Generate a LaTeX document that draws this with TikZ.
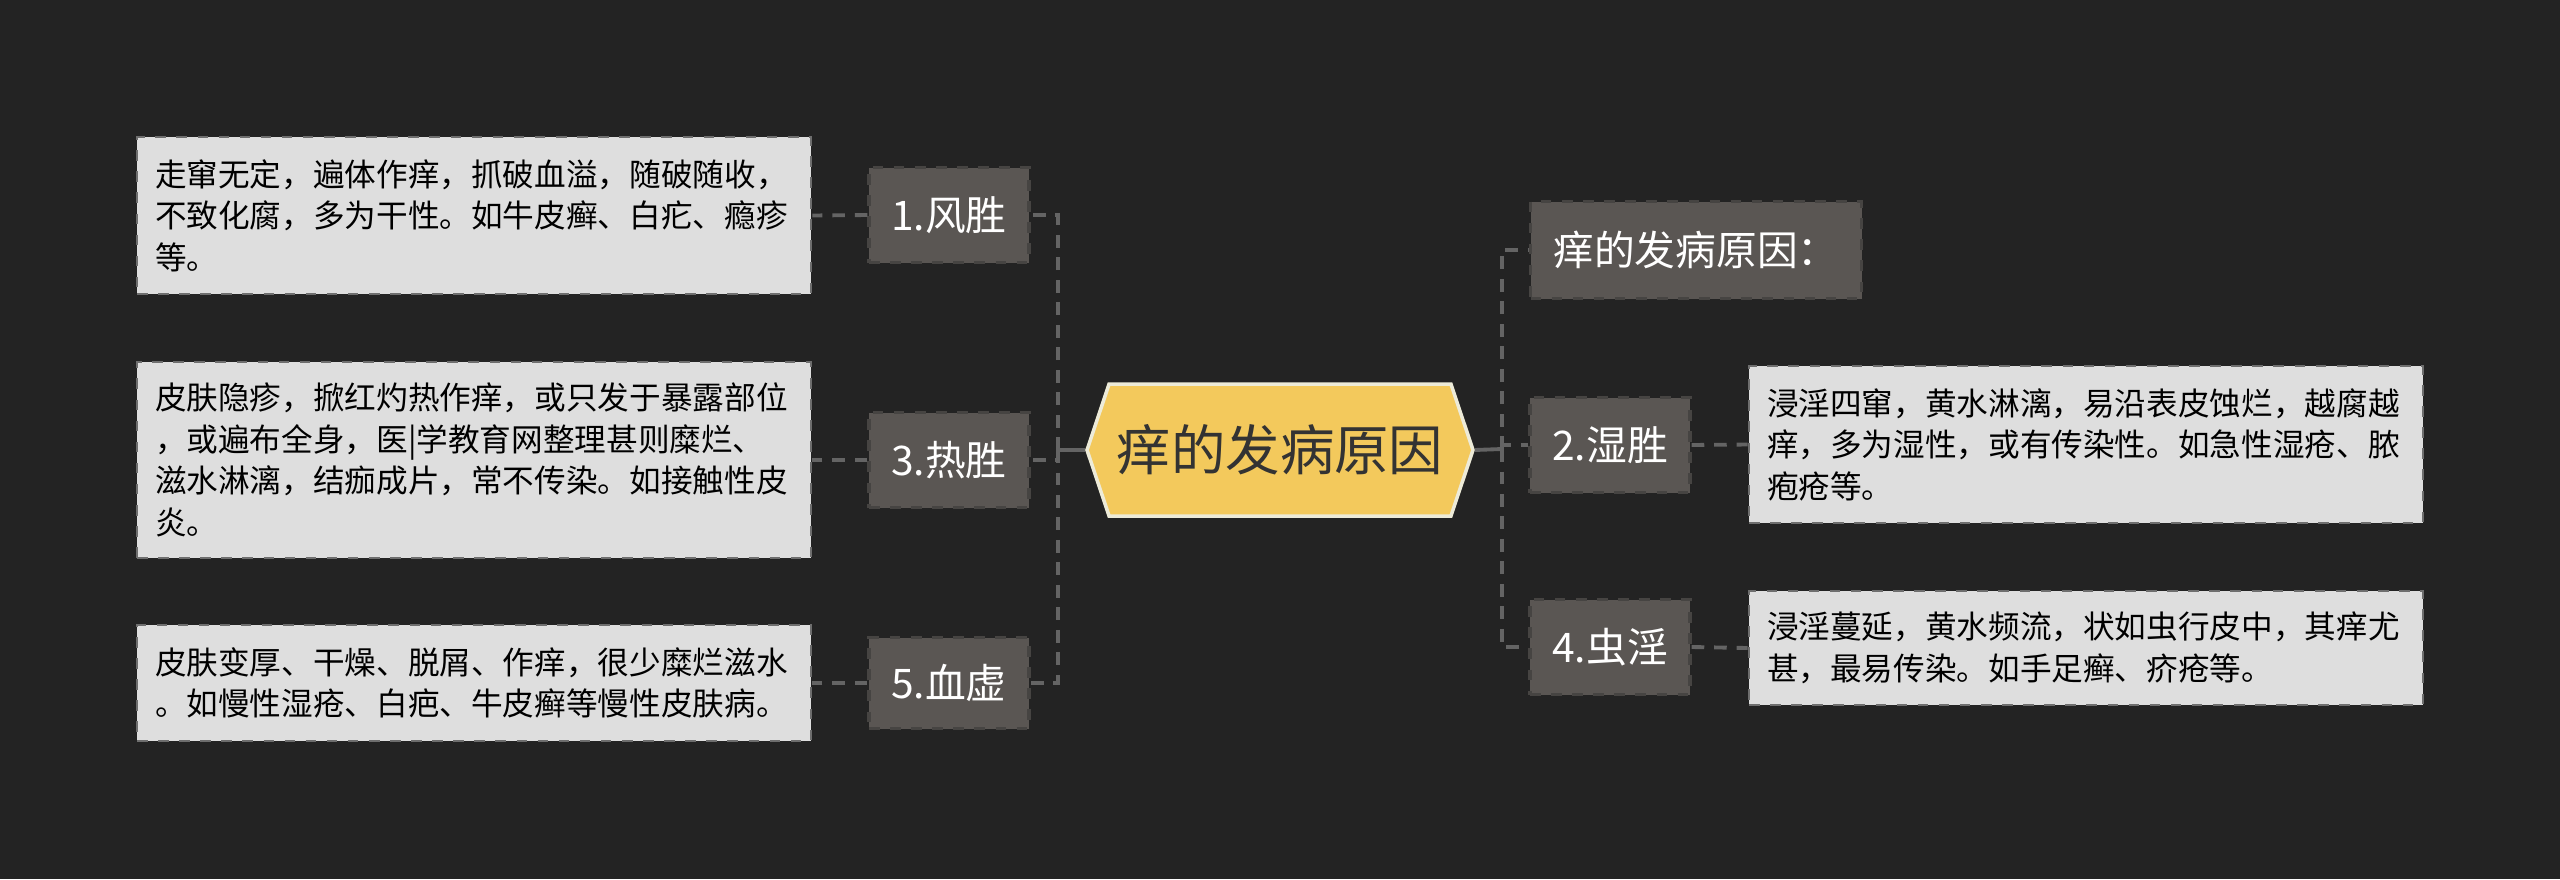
\documentclass[tikz,border=0pt]{standalone}
\usepackage{fontspec}
\setmainfont{Noto Sans CJK SC}
\usepackage{tikz}
\usetikzlibrary{shapes.symbols}
\definecolor{mmbg}{RGB}{35,35,35}
\definecolor{mmgold}{RGB}{243,201,92}
\definecolor{mmcream}{RGB}{237,235,216}
\definecolor{mmtopic}{RGB}{90,86,83}
\definecolor{mmedge}{RGB}{70,68,66}
\definecolor{mmnote}{RGB}{222,222,222}
\definecolor{mmnoteedge}{RGB}{110,110,110}
\definecolor{mmline}{RGB}{100,100,100}
\definecolor{mmink}{RGB}{51,51,51}

\tikzset{
  topic/.style={rectangle, fill=mmtopic, draw=mmedge, dashed, line width=0.9pt, text=white,
    font=\fontsize{11.6}{13}\selectfont, minimum width=1.6cm, minimum height=0.95cm, inner sep=0pt},
  note/.style={rectangle, fill=mmnote, draw=mmnoteedge, dashed, line width=0.8pt, text=black,
    font=\fontsize{9}{11.8}\selectfont, text width=6.38cm, align=left, inner xsep=0.18cm, inner ysep=0pt},
  link/.style={draw=mmline, line width=1.1pt, dash pattern=on 3.6pt off 2.8pt},
  trunk/.style={draw=mmline, line width=1.1pt}
}

\begin{document}
\begin{tikzpicture}
  %% Background
  \fill[mmbg] (0,0) rectangle (25.60,8.79);

  %% Central topic
  \node[signal, signal to=west and east, signal pointer angle=143, fill=mmgold, draw=mmcream,
    line width=1pt, minimum width=3.86cm, minimum height=1.32cm, inner sep=0pt,
    font=\fontsize{15.5}{18}\selectfont, text=mmink] (root) at (12.80,4.29) {痒的发病原因};

  %% Left branches
  \node[topic] (wind)  at (9.49,6.64) {1.风胜};
  \node[topic] (heat)  at (9.49,4.19) {3.热胜};
  \node[topic, minimum height=0.91cm] (blood) at (9.49,1.96) {5.血虚};

  \node[note, minimum height=1.57cm] (winddesc) at (4.74,6.635)
    {走窜无定，遍体作痒，抓破血溢，随破随收，\\不致化腐，多为干性。如牛皮癣、白疕、瘾疹\\等。};
  \node[note, minimum height=1.96cm] (heatdesc) at (4.74,4.19)
    {皮肤隐疹，掀红灼热作痒，或只发于暴露部位\\，或遍布全身，医|学教育网整理甚则糜烂、\\滋水淋漓，结痂成片，常不传染。如接触性皮\\炎。};
  \node[note, minimum height=1.16cm] (blooddesc) at (4.74,1.96)
    {皮肤变厚、干燥、脱屑、作痒，很少糜烂滋水\\。如慢性湿疮、白疤、牛皮癣等慢性皮肤病。};

  %% Right branches
  \node[topic, minimum width=3.31cm, minimum height=0.97cm] (cause) at (16.96,6.29) {痒的发病原因：};
  \node[topic] (damp) at (16.10,4.34) {2.湿胜};
  \node[topic] (worm) at (16.10,2.32) {4.虫淫};

  \node[note, minimum height=1.57cm] (dampdesc) at (20.86,4.345)
    {浸淫四窜，黄水淋漓，易沿表皮蚀烂，越腐越\\痒，多为湿性，或有传染性。如急性湿疮、脓\\疱疮等。};
  \node[note, minimum height=1.14cm] (wormdesc) at (20.86,2.31)
    {浸淫蔓延，黄水频流，状如虫行皮中，其痒尤\\甚，最易传染。如手足癣、疥疮等。};

  %% Connectors
  \coordinate (ljoint) at (10.58,4.29);
  \coordinate (rjoint) at (15.02,4.30);
  \draw[trunk] (root.west) -- (ljoint);
  \draw[trunk] (root.east) -- (rjoint);

  \draw[link] (ljoint) |- (wind.east);
  \draw[link] (ljoint) |- (heat.east);
  \draw[link] (ljoint) |- (blood.east);
  \draw[link] (rjoint) |- (cause.west);
  \draw[link] (rjoint) |- (damp.west);
  \draw[link] (rjoint) |- (worm.west);

  \draw[link] (wind.west)  -- (winddesc.east);
  \draw[link] (heat.west)  -- (heatdesc.east);
  \draw[link] (blood.west) -- (blooddesc.east);
  \draw[link] (damp.east)  -- (dampdesc.west);
  \draw[link] (worm.east)  -- (wormdesc.west);
\end{tikzpicture}
\end{document}
